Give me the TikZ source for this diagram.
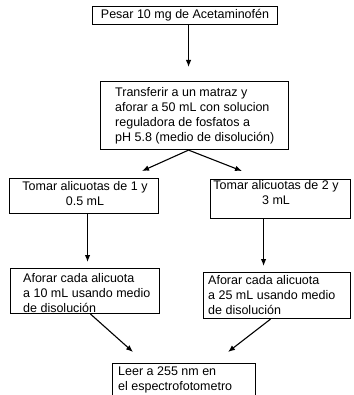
\documentclass[tikz,border=0pt]{standalone}
\usepackage{fontspec}
\setmainfont{Liberation Sans}
\usetikzlibrary{arrows.meta}
\begin{document}
\begin{tikzpicture}[x=1pt,y=-1pt,
  box/.style={draw,line width=1.1pt,inner sep=0pt,anchor=north west},
  txt/.style={inner sep=0pt,font=\fontsize{12.5}{15}\selectfont},
  arr/.style={line width=1.1pt,-{Latex[length=7pt,width=5.5pt]}}]
\useasboundingbox[fill=white] (0,0) rectangle (353,395);
\clip (0,0) rectangle (353,395);
% boxes
\node[box,minimum width=185pt,minimum height=18pt] (b1) at (92,6) {};
\node[box,minimum width=188pt,minimum height=68pt] (b2) at (100,81) {};
\node[box,minimum width=149pt,minimum height=35pt] (b3l) at (9,178) {};
\node[box,minimum width=140pt,minimum height=39pt] (b3r) at (210,179) {};
\node[box,minimum width=149pt,minimum height=45pt] (b4l) at (10,268) {};
\node[box,minimum width=147pt,minimum height=46pt] (b4r) at (203,272) {};
\node[box,minimum width=143pt,minimum height=50pt] (b5) at (112,363) {};
% texts
\node[txt] (t1) at (185,15.5) {Pesar 10 mg de Acetaminofén};
\node[txt,align=left,anchor=west] (t2) at (115,115.5) {Transferir a un matraz y\\aforar a 50 mL con solucion\\reguladora de fosfatos a\\pH 5.8 (medio de disolución)};
\node[txt,align=center] (t3l) at (85,194) {Tomar alicuotas de 1 y\\0.5 mL};
\node[txt,align=center] (t3r) at (276,193) {Tomar alicuotas de 2 y\\3 mL};
\node[txt,align=left,anchor=west] (t4l) at (23,293) {Aforar cada alicuota\\a 10 mL usando medio\\de disolución};
\node[txt,align=left,anchor=west] (t4r) at (208,295) {Aforar cada alicuota\\a 25 mL usando medio\\de disolución};
\node[txt,align=left,anchor=west] (t5) at (118,380) {Leer a 255 nm en\\el espectrofotometro};
% tips
\coordinate (tl) at (142,171);
\coordinate (tr) at (242,171);
\coordinate (bl) at (133,352);
\coordinate (br) at (228,352);
% arrows
\draw[arr] ([xshift=3.5pt]b1.south) -- ([xshift=-6pt,yshift=14pt]b2.north);
\draw[arr] ([xshift=-6pt]b2.south) -- (tl);
\draw[arr] ([xshift=-6pt]b2.south) -- (tr);
\draw[arr] ([xshift=3.5pt]b3l.south) -- ([xshift=2.5pt,yshift=6pt]b4l.north);
\draw[arr] ([xshift=-17pt]b3r.south) -- ([xshift=-13.5pt,yshift=6pt]b4r.north);
\draw[arr] ([xshift=5.5pt]b4l.south) -- (bl);
\draw[arr] ([xshift=-6.5pt]b4r.south) -- (br);
\end{tikzpicture}
\end{document}
